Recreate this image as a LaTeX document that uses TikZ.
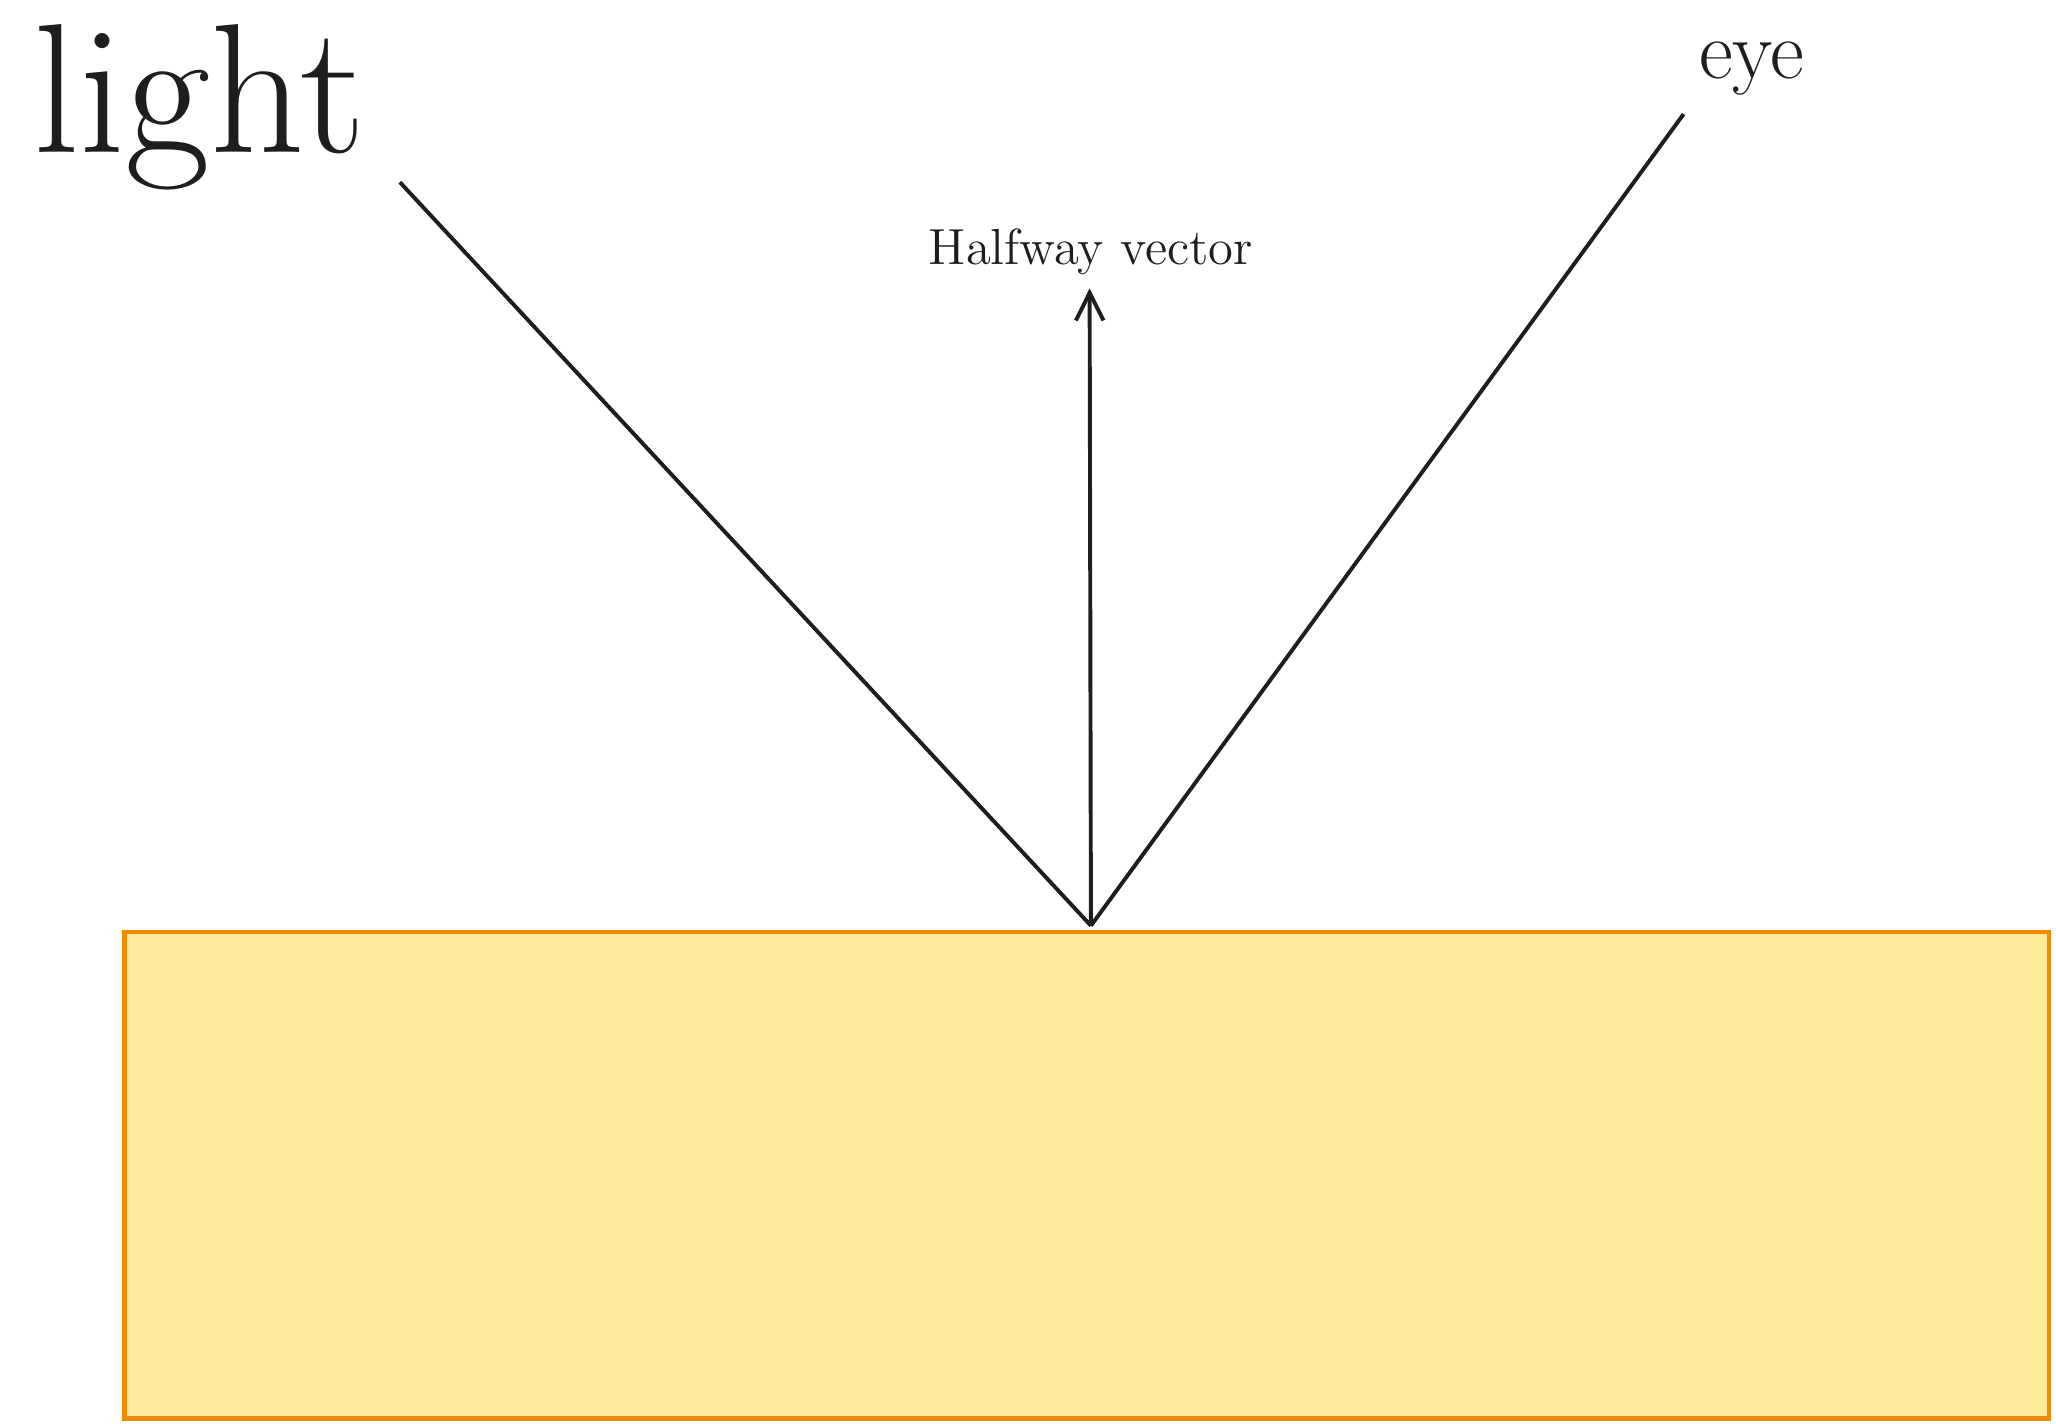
\documentclass[tikz,border=0pt]{standalone}
\usepackage{tikz}
\usetikzlibrary{arrows.meta}
\definecolor{surfacefill}{HTML}{FDEB9B}
\definecolor{surfaceline}{HTML}{F08C00}
\definecolor{ink}{HTML}{1E1E1E}
\begin{document}
\begin{tikzpicture}[x=0.01cm,y=-0.01cm]
	
	\tikzset{ray/.style = {draw=ink,line width=0.85pt}}
	\tikzset{label/.style = {text=ink,inner sep=0pt}}
	
	\useasboundingbox (0,0) rectangle (1568,1086);
	
	\node[draw=surfaceline,fill=surfacefill,line width=1pt,minimum width=14.67cm,minimum height=3.71cm,anchor=north west,inner sep=0pt] (surface) at (93,709) {};
	
	\coordinate (hit) at (832,706);
	\coordinate (light) at (305,139);
	\coordinate (eye) at (1284,87);
	\coordinate (half) at (831,220);
	
	\node[label,font=\fontsize{40}{48}\selectfont] (lighttext) at (152,82) {light};
	\node[label,font=\fontsize{18}{22}\selectfont] (eyetext) at (1336,52) {eye};
	\node[label,font=\fontsize{11}{13}\selectfont,anchor=south] (halftext) at (832,210) {Halfway vector};
	
	\draw[ray] (light) -- (hit);
	\draw[ray] (eye) -- (hit);
	\draw[ray,-{Straight Barb[length=6pt,width=6pt]}] (hit) -- (half);
\end{tikzpicture}
\end{document}
